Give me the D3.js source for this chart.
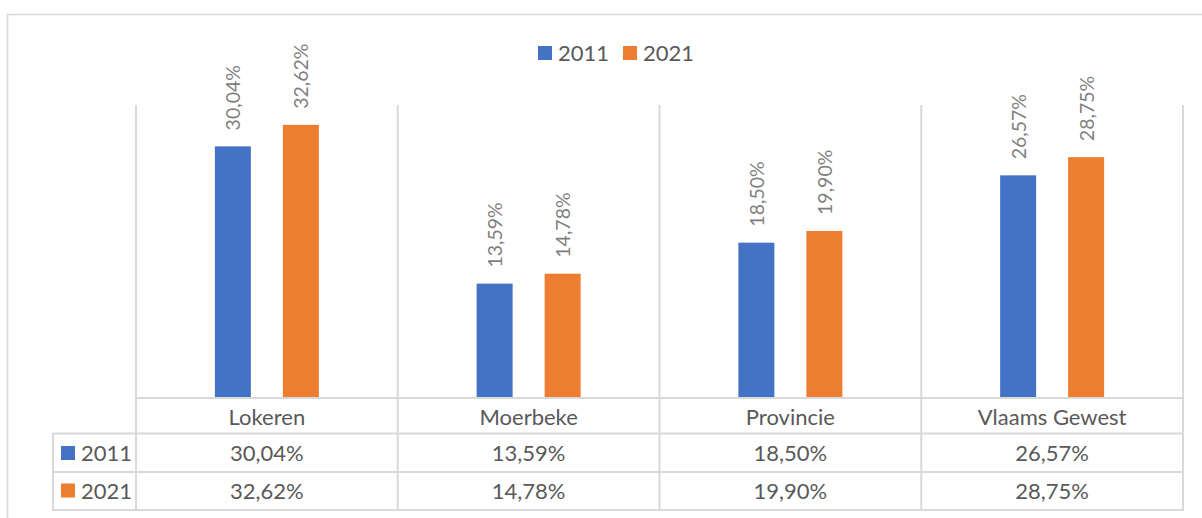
<!DOCTYPE html>
<html>
<head>
<meta charset="utf-8">
<script src="https://cdn.jsdelivr.net/npm/d3@7"></script>
<style>
  html, body { margin: 0; padding: 0; background: #fff; }
  svg { display: block; font-family: Lato, "Open Sans", sans-serif; }
</style>
</head>
<body>
<svg id="chart" width="1202" height="518"></svg>
<script>
// Share per region, 2011 vs 2021
const categories = ["Lokeren", "Moerbeke", "Provincie", "Vlaams Gewest"];
const seriesNames = ["2011", "2021"];
const values2011 = [30.04, 13.59, 18.50, 26.57];
const values2021 = [32.62, 14.78, 19.90, 28.75];
const seriesColors = ["#4472C4", "#ED7D31"];

const seriesValues = [values2011, values2021];
const fmt = v => v.toFixed(2).replace(".", ",") + "%";

const svg = d3.select("#chart");
const gridColor = "#d9d9d9";
const textColor = "#595959";
const tableFont = 22;

// Outer chart frame
svg.append("rect")
  .attr("x", 7.5).attr("y", 14.5)
  .attr("width", 1220).attr("height", 520)
  .attr("fill", "none").attr("stroke", gridColor).attr("stroke-width", 1.6);

// Plot geometry
const plotLeft = 136, plotRight = 1183, plotTop = 105, baseline = 397;
const tableLeft = 53;
const rowEdges = [398, 433.5, 472, 510];

const x0 = d3.scaleBand().domain(categories).range([plotLeft, plotRight]).padding(0);
const x1 = d3.scaleBand().domain(seriesNames).range([0, x0.bandwidth()])
  .paddingInner(0.4706).paddingOuter(1.16);
const y = d3.scaleLinear().domain([0, 35]).range([baseline, plotTop]);

// Category divider lines through plot and table header
const dividers = categories.map(c => x0(c)).concat([plotRight]);
svg.append("g").selectAll("line").data(dividers).join("line")
  .attr("x1", d => d).attr("x2", d => d)
  .attr("y1", plotTop).attr("y2", rowEdges[3])
  .attr("stroke", gridColor).attr("stroke-width", 2);

// Table left column border
svg.append("line")
  .attr("x1", tableLeft).attr("x2", tableLeft)
  .attr("y1", rowEdges[1]).attr("y2", rowEdges[3])
  .attr("stroke", gridColor).attr("stroke-width", 2);

// Horizontal table lines
svg.append("line").attr("x1", plotLeft - 1).attr("x2", plotRight + 1)
  .attr("y1", rowEdges[0]).attr("y2", rowEdges[0])
  .attr("stroke", gridColor).attr("stroke-width", 2);
svg.append("g").selectAll("line").data(rowEdges.slice(1)).join("line")
  .attr("x1", tableLeft - 1).attr("x2", plotRight + 1)
  .attr("y1", d => d).attr("y2", d => d)
  .attr("stroke", gridColor).attr("stroke-width", 2);

// Bars
const groups = svg.append("g").selectAll("g").data(categories).join("g")
  .attr("transform", c => `translate(${x0(c)},0)`);

seriesNames.forEach((s, si) => {
  groups.append("rect")
    .attr("x", x1(s))
    .attr("width", x1.bandwidth())
    .attr("y", (c, ci) => y(seriesValues[si][ci]))
    .attr("height", (c, ci) => baseline - y(seriesValues[si][ci]))
    .attr("fill", seriesColors[si]);

  // Rotated value labels
  groups.append("text")
    .attr("transform", (c, ci) =>
      `translate(${x1(s) + x1.bandwidth() / 2},${y(seriesValues[si][ci]) - 16}) rotate(-90)`)
    .attr("dominant-baseline", "central")
    .attr("text-anchor", "start")
    .attr("font-size", 19.5)
    .attr("fill", "#7f7f7f")
    .text((c, ci) => fmt(seriesValues[si][ci]));
});

// Legend
const legend = svg.append("g");
const legendItems = [{ x: 538, name: seriesNames[0], color: seriesColors[0] },
                     { x: 623, name: seriesNames[1], color: seriesColors[1] }];
legendItems.forEach(it => {
  legend.append("rect").attr("x", it.x).attr("y", 46).attr("width", 14).attr("height", 14)
    .attr("fill", it.color);
  legend.append("text").attr("x", it.x + 20).attr("y", 60.5)
    .attr("font-size", tableFont).attr("fill", textColor).text(it.name);
});

// Data table: category header
svg.append("g").selectAll("text").data(categories).join("text")
  .attr("x", c => x0(c) + x0.bandwidth() / 2)
  .attr("y", 424.5)
  .attr("text-anchor", "middle")
  .attr("font-size", tableFont).attr("fill", textColor)
  .text(c => c);

// Data table: series rows
const rowBaselines = [461, 498.5];
seriesNames.forEach((s, si) => {
  svg.append("rect").attr("x", 61).attr("y", rowBaselines[si] - 15)
    .attr("width", 14).attr("height", 14).attr("fill", seriesColors[si]);
  svg.append("text").attr("x", 81).attr("y", rowBaselines[si])
    .attr("font-size", tableFont).attr("fill", textColor).text(s);
  svg.append("g").selectAll("text").data(categories).join("text")
    .attr("x", c => x0(c) + x0.bandwidth() / 2)
    .attr("y", rowBaselines[si])
    .attr("text-anchor", "middle")
    .attr("font-size", tableFont).attr("fill", textColor)
    .text((c, ci) => fmt(seriesValues[si][ci]));
});
</script>
</body>
</html>
